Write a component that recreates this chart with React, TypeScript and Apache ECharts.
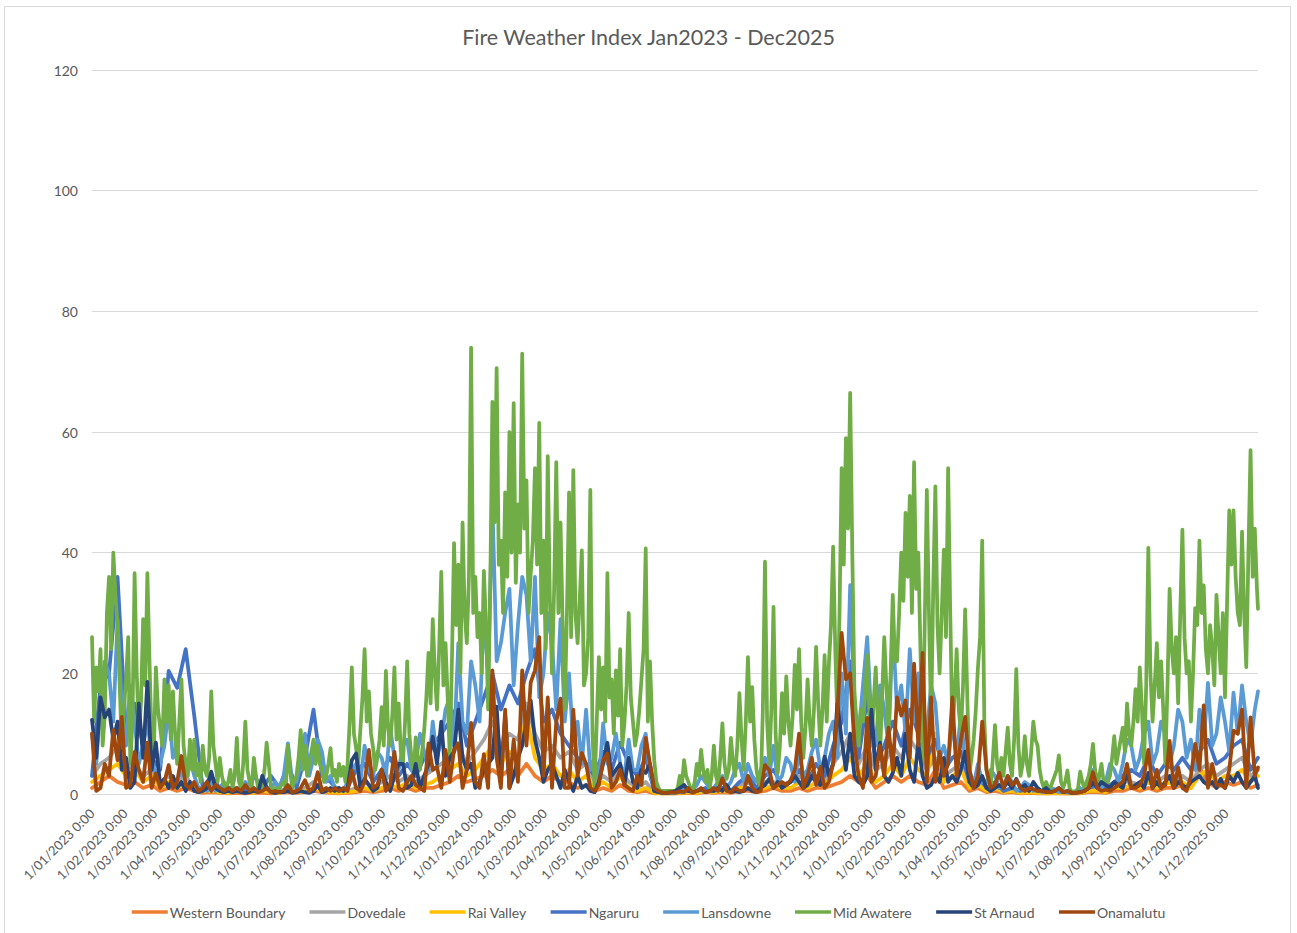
import React, { useEffect, useRef } from 'react';
import * as echarts from 'echarts';

// ---- categories (daily dates, 2023-01-01 .. 2025-12-31) ----
const START_MS = Date.UTC(2023, 0, 1);
const DAY_COUNT = 1096;
const categories: string[] = Array.from({ length: DAY_COUNT }, (_, d) => {
  const dt = new Date(START_MS + d * 86400000);
  return `${dt.getUTCFullYear()}-${String(dt.getUTCMonth() + 1).padStart(2, '0')}-${String(dt.getUTCDate()).padStart(2, '0')}`;
});

const yTicks = [0, 20, 40, 60, 80, 100, 120];
const seriesNames = ['Western Boundary', 'Dovedale', 'Rai Valley', 'Ngaruru', 'Lansdowne', 'Mid Awatere', 'St Arnaud', 'Onamalutu'];
const seriesColors = ['#ED7D31', '#A5A5A5', '#FFC000', '#4472C4', '#5B9BD5', '#70AD47', '#264478', '#9E480E'];

// ---- values read every 2 days ----
const midAwatere = [
  26, 12, 21, 17, 24, 8, 13, 30, 36, 24, 40, 33, 28, 18, 8, 14, 19, 26, 5, 12,
  36.6, 20, 10, 15, 29, 18, 36.6, 22, 9, 6, 21, 14, 11, 8, 19, 12, 18, 9, 17, 10,
  5, 12, 19, 8, 5, 3, 9, 4, 9, 3, 5, 2, 8, 4, 3, 6, 17, 8, 5, 2,
  6, 3, 1.5, 1, 2, 4, 1, 3, 9.3, 2, 1, 5, 12, 4, 2, 1, 6, 3, 1, 0.5,
  1.5, 4, 8.5, 5, 1, 0.5, 1, 0.5, 1, 1.5, 2, 1, 8, 4, 1, 2, 3, 6, 10.6, 4,
  8, 3, 5, 7, 9, 5, 8, 5, 4, 2, 3, 5, 7.6, 3, 4, 2, 5, 3, 4.5, 2,
  5, 12, 21, 10, 7.6, 5, 10.6, 16, 24, 12, 17, 10, 7.6, 4, 6, 9, 14.4, 8, 20.4, 11,
  8, 13, 21, 9, 15, 7, 5, 12, 22, 10, 6, 3, 9.4, 6, 4, 7, 10.6, 16, 23.4, 15,
  29, 20, 14, 24, 36.8, 18, 25, 16, 6, 22, 41.6, 28, 38, 20, 45, 30, 25, 36, 74, 30,
  36, 26, 30, 20, 37, 28, 14, 34, 65, 45, 70.6, 38, 42, 30, 50, 36, 60, 40, 64.8, 35,
  48, 40, 73, 44, 52, 30, 36.5, 42, 54, 38, 61.5, 30, 42, 24, 56, 32, 20, 34, 55, 30,
  45, 28, 14, 30, 50, 26, 53.7, 30, 25, 32, 40.4, 18, 20, 26, 50.4, 10, 1, 12, 22.7, 14,
  21, 12, 36.6, 16, 19, 10, 20.5, 13, 24, 8, 11.7, 18, 30, 16, 12, 8, 10, 14, 19, 24,
  40.7, 12, 22, 12, 5.6, 2, 1, 0.5, 0.5, 0.5, 0.5, 0.5, 0.5, 0.5, 0.5, 1, 3, 1.5, 5.6, 3,
  2, 1, 0.5, 2, 5, 3, 7.3, 4, 2, 4, 1, 3, 8, 3, 1.5, 6, 11.7, 5, 2.5, 4,
  9.3, 5, 3, 8, 16.7, 9, 4, 12, 22.7, 12, 17.7, 9, 4, 2, 1, 14, 38.5, 12, 5, 14,
  31, 10, 3.5, 8, 16.7, 10, 19.5, 12, 8, 13, 21.4, 14, 24, 12, 6, 11, 19, 12, 8, 14,
  24.4, 15, 8, 14, 23, 12, 21.4, 28, 41, 24, 12, 30, 54, 38, 59, 44, 66.5, 40, 17, 12,
  8, 14, 12, 16, 23, 14, 8, 15, 21, 12, 6, 16, 26, 18, 10, 20, 33, 22, 22, 30,
  40, 32, 46.6, 36, 49.4, 30, 55, 34, 40, 24, 5, 28, 50.4, 30, 12, 34, 51, 28, 20, 30,
  40.5, 26, 54, 30, 10, 16, 24, 14, 10, 18, 30.6, 16, 3.5, 6, 9, 14, 21, 26, 42, 12,
  4, 2, 1, 6, 11.4, 5, 3, 6, 3, 7, 11, 5, 3, 9, 20.7, 8, 3, 5, 9.6, 5,
  3, 7, 12, 9, 8, 4, 2, 1, 2, 1, 1, 2, 3, 4, 6.4, 2, 1, 2, 3.9, 1,
  0.4, 0.4, 0.4, 1, 3.7, 2, 1, 2, 3, 5, 8.3, 4, 1.5, 3, 5, 2, 1.5, 2, 3, 6,
  9.6, 5, 7, 9, 11, 7, 15, 10, 8, 12, 17.4, 12, 21, 14, 5, 18, 40.8, 20, 12, 18,
  25, 16, 22, 14, 5, 18, 34, 24, 20, 26, 15, 30, 43.8, 26, 20, 22, 12, 20, 30.8, 28,
  42, 30, 34.6, 24, 20, 28, 24, 18, 33, 26, 20, 30, 16, 32, 47, 38, 47, 36, 30, 28,
  43.5, 30, 21, 40, 57, 36, 44, 34, 30.7,
];

// ---- values read every 4 days ----
const onamalutu = [
  10, 0.5, 1, 5, 3, 10.6, 5.6, 12.8, 1, 1.5,
  7, 4, 2, 8.5, 1, 3.4, 1, 2, 4.8, 1,
  2, 6.3, 1.5, 1, 2, 0.5, 1, 2, 0.5, 1.5,
  1, 0.5, 1, 0.5, 1, 0.5, 1.5, 0.5, 1, 0.3,
  0.5, 1, 0.3, 0.5, 0.3, 0.5, 1.5, 0.3, 0.5, 1,
  2.3, 0.5, 1, 3.6, 0.5, 1, 0.5, 1, 0.5, 1,
  0.5, 3.9, 1, 0.5, 2, 7.3, 1, 1.5, 4, 0.5,
  1.5, 7, 1, 0.5, 2, 3, 1.5, 1, 0.5, 8.4,
  4, 4.5, 1, 7.3, 2, 7.3, 8.4, 1, 4, 11.8,
  2, 1, 6.6, 1, 20.5, 6, 1, 14, 1, 9,
  2, 20.5, 8, 18.5, 20.5, 26, 3, 16, 1, 12,
  15.8, 1, 1, 14, 3, 6.8, 5, 1, 0.5, 1.5,
  5.6, 6.7, 1, 2, 4, 1.5, 1, 0.5, 3, 1.5,
  9.3, 5, 1, 0.5, 0.2, 0.2, 0.3, 0.2, 0.5, 0.3,
  1, 0.2, 0.5, 1, 0.3, 0.5, 1, 0.5, 2.6, 0.5,
  0.3, 1, 0.5, 0.5, 3, 1, 0.3, 0.5, 4.8, 4,
  1, 1.5, 2, 1.5, 2.3, 4, 10, 1, 3, 6,
  1.5, 4.5, 1, 2, 5, 13.4, 26.7, 19, 20, 8,
  3, 1, 12.6, 2, 3, 8, 3, 11, 4, 16,
  13, 15.5, 6, 21.6, 8, 23.4, 2, 16, 2, 7,
  3, 5, 16, 3, 9, 12.8, 4, 1, 3, 12,
  4, 1, 1.5, 3.5, 1, 3, 1.5, 2.3, 1, 0.5,
  1, 0.8, 0.5, 0.5, 0.3, 0.3, 0.5, 1, 0.3, 0.5,
  0.2, 0.2, 0.3, 0.5, 1, 3.6, 1, 0.5, 0.7, 0.5,
  1, 1.5, 2, 5, 1, 1, 1.5, 3, 7.3, 1,
  4, 1, 1.5, 8.8, 1, 4.4, 1, 0.5, 3, 8.3,
  4, 14.7, 1, 5, 1.5, 1.5, 1, 4, 10.5, 10,
  14, 1, 12.7, 3, 4.4,
];

const stArnaud = [
  12.3, 6, 16, 12.7, 14, 9, 12, 4, 6, 1,
  2, 15, 6, 18.6, 4, 8.5, 1.5, 2.5, 1, 3,
  1, 2, 0.5, 2, 0.5, 0.3, 0.5, 1, 3.7, 1,
  0.5, 0.3, 0.5, 0.3, 0.5, 0.3, 0.2, 0.3, 0.5, 0.3,
  3, 1, 0.3, 0.2, 0.3, 0.3, 0.5, 0.2, 0.3, 0.5,
  0.3, 0.2, 0.5, 1.5, 0.3, 0.5, 1, 0.5, 1, 0.5,
  1, 5.6, 6.7, 1, 2.5, 1.5, 0.5, 1, 4, 2,
  0.5, 3, 5, 5, 1, 1.5, 5, 1, 3, 5,
  9.5, 5, 12, 3, 6, 7, 14, 6, 4, 5,
  1, 2, 4, 5, 6, 14.5, 3, 13, 1, 3,
  6, 8, 12.2, 15.5, 9, 6, 2, 4, 5, 3,
  1, 4, 2, 0.5, 3, 1, 1.5, 0.5, 0.3, 2,
  5, 8.5, 3, 4, 5, 1.5, 6, 2, 1, 4,
  3.5, 5, 0.5, 0.3, 0.2, 0.2, 0.3, 0.5, 1, 1.5,
  0.5, 0.3, 0.5, 0.8, 0.3, 0.5, 0.5, 1, 0.5, 1.5,
  0.3, 0.5, 0.3, 0.5, 1, 0.5, 0.3, 1, 1.5, 2.5,
  1, 2, 1, 1.5, 2, 3, 2, 1, 1.5, 3,
  2, 1.5, 6.2, 3, 5, 15, 9, 4, 10, 3,
  2, 1.5, 3, 14, 4, 8.5, 3, 2, 3.5, 6,
  3, 10, 4, 2, 8.5, 3, 1, 1.5, 3, 2,
  6, 2, 3, 2, 4, 7, 2, 1, 1.5, 3,
  1, 0.5, 1, 1.5, 1, 2, 1, 2.5, 1, 1.5,
  0.5, 2, 1, 0.5, 1, 0.3, 0.5, 1, 0.3, 0.5,
  0.2, 0.2, 0.3, 0.5, 1, 2, 1, 2, 1.5, 1,
  2, 1.5, 1, 3.5, 1, 1.5, 2, 1, 3.5, 1,
  2, 1, 2, 3, 1, 2, 1.5, 1, 2, 2.5,
  3, 2, 1.5, 2, 1, 2.5, 1, 3, 2, 3.5,
  2, 1, 2, 3, 1,
];

const lansdowne = [
  10, 5, 15, 22, 20, 12, 29, 14, 8, 18, 12, 5, 8, 12, 6, 3, 5, 8, 14, 6,
  8, 3, 4, 6, 3, 1, 1, 0.5, 2, 0.5, 1, 2, 0.5, 1, 1, 0.5, 2, 1, 1, 0.5,
  3, 1, 1, 2, 1, 3, 8.4, 2, 2, 5, 10, 3, 6, 9, 7, 2, 3, 1, 1, 0.5,
  2, 4, 5, 2, 8, 4, 3, 7, 6, 3, 11, 6, 4, 8, 9, 4, 5, 10, 7, 4,
  12, 6, 9, 14, 16, 8, 25, 12, 10, 22, 18, 12, 30, 20, 48.5, 22, 25, 30, 34, 18,
  28, 36, 33, 22, 36, 16, 20, 30, 25, 14, 29, 12, 20, 8, 12, 5, 14, 4, 6, 2,
  11.7, 5, 6, 10, 5, 3, 9, 4, 4, 8, 10, 3, 1, 0.5, 0.3, 0.3, 0.3, 0.5, 0.5, 1,
  1, 0.5, 1.5, 3, 2, 1, 1, 2, 3, 1, 2, 4, 5, 2, 5, 3, 2, 4, 6, 3,
  8, 2, 3, 6, 5, 2, 7, 3, 4, 7, 9, 4, 6, 10, 12, 6, 20, 10, 34.6, 14,
  10, 18, 26, 12, 8, 18, 14, 8, 28, 14, 18, 10, 24, 12, 20, 8, 10, 18, 15, 6,
  8, 5, 12, 6, 13.4, 5, 4, 1.5, 5, 2, 2, 4, 3, 1, 1.5, 3, 2, 0.5, 1, 2,
  1.5, 0.5, 1, 0.3, 0.5, 1, 0.8, 0.3, 0.5, 0.3, 0.3, 0.5, 1, 0.5, 2, 4, 3, 1, 2, 5,
  4, 2, 5, 9, 8, 4, 6, 10, 12, 5, 7, 12, 10, 5, 8, 14, 12, 6, 9, 4,
  14, 8, 18.4, 8, 10, 16, 12, 7, 16.8, 10, 18, 12, 8, 14, 17,
];

// ---- values read every 8 days ----
const ngaruru = [
  3, 18, 20, 36, 10, 15, 8, 6, 4, 20.4,
  17.6, 24, 13, 1, 3, 1, 1, 1, 0.5, 3,
  1, 3, 1, 5, 1, 6, 14, 3, 2, 0.5,
  1, 4, 5, 2, 4, 6, 3, 5, 3, 6,
  8, 10, 12, 15, 8, 12, 16, 20, 14, 18,
  15, 20, 24, 12, 14, 10, 8, 6, 5, 3,
  7, 4, 8.5, 5, 3, 6, 0.5, 0.2, 0.2, 0.3,
  0.5, 0.5, 1, 0.5, 1, 0.5, 2, 3, 1, 3,
  4, 1.5, 2, 4, 2, 5, 3, 8, 12, 22,
  6, 16, 5, 8, 12, 8, 14, 10, 6, 9,
  4, 6, 7, 2, 3, 1, 2, 0.5, 1, 0.5,
  1, 0.5, 0.3, 0.5, 0.3, 0.2, 0.5, 1, 1.5, 1,
  2, 3, 4, 3, 6, 3, 5, 4, 6, 4,
  7, 9, 5, 6, 8, 9, 4, 6,
];

const raiValley = [
  2, 3, 4, 5, 3, 4, 2, 3, 1, 2,
  1, 2, 1, 0.5, 0.5, 0.3, 0.2, 0.5, 0.3, 0.2,
  0.5, 0.3, 0.2, 0.5, 0.3, 0.5, 1, 0.5, 0.3, 0.2,
  0.3, 0.5, 1, 0.5, 1, 1.5, 1, 2, 1, 1.5,
  2, 3, 4, 5, 3, 4, 6, 8, 5, 7,
  6, 13, 6, 4, 5, 3, 4, 2, 3, 1,
  2, 1, 3, 1, 0.5, 1, 0.2, 0.1, 0.1, 0.2,
  0.3, 0.2, 0.5, 0.3, 0.5, 0.3, 1, 1, 0.5, 1,
  1.5, 1, 1, 2, 1, 2, 1.5, 3, 4, 6,
  3, 5, 2, 3, 5, 3, 6, 4, 3, 10,
  2, 3, 4, 1, 1.5, 0.5, 1, 0.3, 0.5, 0.2,
  0.3, 0.2, 0.1, 0.2, 0.1, 0.1, 0.2, 0.5, 0.5, 0.3,
  1, 1, 1.5, 1, 2, 1, 2, 1.5, 2, 1,
  3, 4, 2, 3, 3, 4, 2, 3,
];

const dovedale = [
  3, 5, 6, 8, 4, 5, 3, 4, 2, 3,
  2, 3, 1, 0.5, 1, 0.5, 0.3, 0.5, 0.3, 0.5,
  0.5, 0.3, 0.5, 1, 0.5, 1, 2, 1, 0.5, 0.3,
  0.5, 1, 2, 1, 2, 3, 2, 3, 2, 3,
  4, 5, 6, 8, 5, 7, 9, 12, 8, 10,
  9, 15, 10, 7, 8, 6, 7, 4, 5, 2,
  3, 2, 4, 2, 1, 2, 0.3, 0.2, 0.2, 0.3,
  0.5, 0.3, 0.5, 0.5, 1, 0.5, 1.5, 2, 1, 2,
  2, 1.5, 2, 3, 2, 3, 2, 5, 7, 10,
  5, 8, 4, 5, 8, 6, 9, 7, 4, 6,
  3, 4, 5, 2, 2, 1, 1.5, 0.5, 1, 0.3,
  0.5, 0.3, 0.2, 0.3, 0.2, 0.2, 0.3, 0.5, 1, 0.5,
  1.5, 2, 2, 1.5, 3, 2, 3, 2, 3, 2,
  4, 5, 3, 4, 5, 6, 3, 4,
];

const westernBoundary = [
  1, 2, 3, 2, 1.5, 2, 1, 1.5, 0.5, 1,
  0.5, 1, 0.5, 0.2, 0.3, 0.2, 0.1, 0.2, 0.1, 0.2,
  0.2, 0.1, 0.2, 0.3, 0.2, 0.3, 0.5, 0.3, 0.2, 0.1,
  0.2, 0.3, 0.5, 0.3, 0.5, 1, 0.5, 1, 0.5, 1,
  1, 1.5, 2, 3, 2, 2.5, 3, 4, 3, 4,
  3, 5, 3, 2, 3, 2, 2, 1, 1.5, 0.5,
  1, 0.5, 1.5, 0.5, 0.3, 0.5, 0.1, 0.1, 0.1, 0.1,
  0.2, 0.1, 0.3, 0.2, 0.3, 0.2, 0.5, 0.5, 0.3, 0.5,
  1, 0.5, 0.5, 1, 0.5, 1, 1, 1.5, 2, 3,
  2, 3, 1, 2, 3, 2, 3, 2, 1.5, 4,
  1, 1.5, 2, 0.5, 1, 0.3, 0.5, 0.2, 0.3, 0.1,
  0.2, 0.1, 0.1, 0.1, 0.1, 0.1, 0.1, 0.3, 0.3, 0.2,
  0.5, 0.5, 1, 0.5, 1, 0.5, 1, 1, 1.5, 1,
  4.4, 2, 1, 2, 1.5, 2, 1, 1.5,
];

const seriesValues = [westernBoundary, dovedale, raiValley, ngaruru, lansdowne, midAwatere, stArnaud, onamalutu];
const seriesSteps = [8, 8, 8, 8, 4, 2, 4, 4];

const toPairs = (values: number[], step: number) =>
  values.map((v, i) => [Math.min(i * step, DAY_COUNT - 1), v]);

const FONT = 'Lato, "Open Sans", "Noto Sans", sans-serif';
const GREY_TEXT = '#595959';

export default function App() {
  const ref = useRef<HTMLDivElement>(null);
  useEffect(() => {
    if (!ref.current) return;
    const chart = echarts.init(ref.current, undefined, { renderer: 'svg' });
    chart.setOption({
      animation: false,
      backgroundColor: '#ffffff',
      textStyle: { fontFamily: FONT },
      title: {
        text: 'Fire Weather Index Jan2023 - Dec2025',
        left: 'center',
        top: 21,
        textStyle: { fontFamily: FONT, fontSize: 21.5, fontWeight: 'normal', color: GREY_TEXT },
      },
      graphic: [
        {
          type: 'rect',
          shape: { x: 4.5, y: 6.5, width: 1286, height: 940 },
          style: { fill: 'none', stroke: '#d9d9d9', lineWidth: 1 },
          silent: true,
        },
      ],
      legend: {
        data: seriesNames,
        left: 'center',
        top: 900,
        icon: 'rect',
        itemWidth: 36,
        itemHeight: 3.5,
        itemGap: 24,
        textStyle: { fontFamily: FONT, fontSize: 14, color: GREY_TEXT, padding: [0, 0, 0, -3] },
      },
      grid: { left: 92, right: 39, top: 70, bottom: 139, containLabel: false },
      xAxis: {
        type: 'category',
        data: categories,
        boundaryGap: false,
        axisTick: { show: false },
        axisLine: { lineStyle: { color: '#d9d9d9', width: 1 } },
        splitLine: { show: false },
        axisLabel: {
          interval: (_idx: number, val: string) => val.slice(8) === '01',
          rotate: 45,
          margin: 17,
          fontFamily: FONT,
          fontSize: 13,
          color: GREY_TEXT,
          formatter: (val: string) => `${Number(val.slice(8))}/${val.slice(5, 7)}/${val.slice(0, 4)} 0:00`,
        },
      },
      yAxis: {
        type: 'value',
        min: yTicks[0],
        max: yTicks[yTicks.length - 1],
        interval: 20,
        axisLine: { show: false },
        axisTick: { show: false },
        splitLine: { lineStyle: { color: '#d9d9d9', width: 1 } },
        axisLabel: { margin: 14, fontFamily: FONT, fontSize: 14, color: GREY_TEXT },
      },
      series: seriesNames.map((name, k) => ({
        name,
        type: 'line',
        data: toPairs(seriesValues[k], seriesSteps[k]),
        showSymbol: false,
        symbol: 'none',
        smooth: false,
        color: seriesColors[k],
        lineStyle: { width: 3.75, color: seriesColors[k], cap: 'round', join: 'round' },
        emphasis: { disabled: true },
      })),
    });
    return () => chart.dispose();
  }, []);
  return (
    <div
      ref={ref}
      style={{ position: 'absolute', left: 0, top: 0, width: 1297, height: 933 }}
    />
  );
}
